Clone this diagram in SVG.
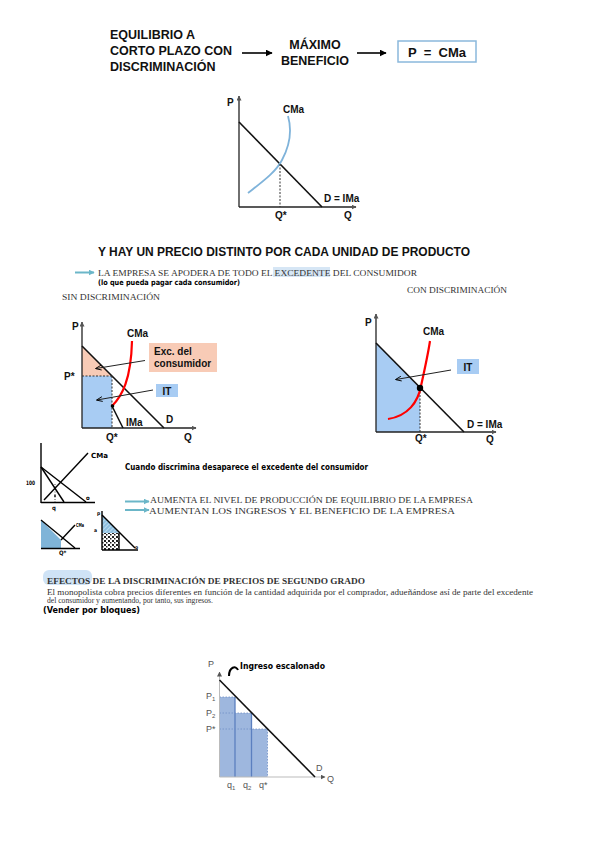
<svg xmlns="http://www.w3.org/2000/svg" width="599" height="848" viewBox="0 0 599 848">
<defs>
<marker id="ah" viewBox="0 0 10 10" refX="9" refY="5" markerWidth="7" markerHeight="7" orient="auto" markerUnits="userSpaceOnUse"><path d="M0,0L10,5L0,10z" fill="#000"/></marker>
<marker id="ahs" viewBox="0 0 10 10" refX="9" refY="5" markerWidth="6" markerHeight="6" orient="auto" markerUnits="userSpaceOnUse"><path d="M0,1L10,5L0,9" fill="none" stroke="#000" stroke-width="1.5"/></marker>
<marker id="ahx" viewBox="0 0 10 10" refX="9" refY="5" markerWidth="5" markerHeight="5" orient="auto" markerUnits="userSpaceOnUse"><path d="M0,0L10,5L0,10z" fill="#555"/></marker>
<marker id="aht" viewBox="0 0 10 10" refX="9" refY="5" markerWidth="6" markerHeight="6" orient="auto" markerUnits="userSpaceOnUse"><path d="M0,0L10,5L0,10z" fill="#6bb6c8"/></marker>
<pattern id="noise" width="4" height="4" patternUnits="userSpaceOnUse"><rect width="4" height="4" fill="#fff"/><rect width="2" height="2" fill="#222"/><rect x="2" y="2" width="1.5" height="1.5" fill="#222"/></pattern>
<pattern id="hatch" width="3" height="3" patternUnits="userSpaceOnUse" patternTransform="rotate(45)"><rect width="3" height="3" fill="#8dbfe0"/><line x1="0" y1="0" x2="0" y2="3" stroke="#fff" stroke-width="0.8"/></pattern>
</defs>
<style>
.h{font-family:"Liberation Sans",Arial,sans-serif;font-weight:bold;fill:#111}
.lb{font-family:"Liberation Sans",Arial,sans-serif;font-weight:bold;font-size:10px;fill:#111}
.g{font-family:"Liberation Sans",Arial,sans-serif;font-size:9px;fill:#555}
.s{font-family:"Liberation Serif","Times New Roman",serif;font-size:8.5px;fill:#333}
.hw{font-family:"DejaVu Sans Condensed","DejaVu Sans",sans-serif;font-weight:bold;fill:#000}
.ax{stroke:#222;stroke-width:1.3;fill:none}
.ln{stroke:#111;stroke-width:1.6;fill:none}
.ds{stroke:#333;stroke-width:1;stroke-dasharray:2,1.5;fill:none}
.sk{stroke:#000;stroke-width:1.4;fill:none}
.ta{stroke:#6bb6c8;stroke-width:2;fill:none}
</style>
<rect width="599" height="848" fill="#fff"/>

<g id="header">
<text class="h" font-size="12.5"><tspan x="110" y="39">EQUILIBRIO A</tspan><tspan x="110" y="55">CORTO PLAZO CON</tspan><tspan x="110" y="71">DISCRIMINACIÓN</tspan></text>
<text class="h" font-size="12.5" text-anchor="middle"><tspan x="315" y="49">MÁXIMO</tspan><tspan x="315" y="65">BENEFICIO</tspan></text>
<rect x="398" y="41" width="78" height="21" fill="#fff" stroke="#8ab8dc" stroke-width="1.5"/>
<text class="h" font-size="13" x="437" y="56.5" text-anchor="middle" xml:space="preserve">P  =  CMa</text>
</g>

<g id="connectors">
<line x1="242" y1="53" x2="272" y2="53" stroke="#000" stroke-width="1.6" marker-end="url(#ah)"/>
<line x1="357" y1="53" x2="386" y2="53" stroke="#000" stroke-width="1.6" marker-end="url(#ah)"/>
<line x1="75" y1="272.5" x2="94" y2="272.5" class="ta" marker-end="url(#aht)"/>
<line x1="125" y1="501.5" x2="149" y2="501.5" class="ta" stroke-width="1.5" marker-end="url(#aht)"/>
<line x1="125" y1="510" x2="149" y2="510" class="ta" stroke-width="1.5" marker-end="url(#aht)"/>
</g>

<g id="graph1">
<line class="ax" x1="239" y1="207" x2="239" y2="96" marker-end="url(#ahx)"/>
<line class="ax" x1="239" y1="207" x2="356" y2="207" marker-end="url(#ahx)"/>
<line class="ln" x1="239" y1="122" x2="322" y2="207"/>
<path d="M248,193 C262,182 276,172 282,160 C290,145 292,130 288,116" fill="none" stroke="#7fb3da" stroke-width="1.8"/>
<line class="ds" x1="280" y1="164" x2="280" y2="207"/>
<text class="lb" x="227" y="106">P</text>
<text class="lb" x="283" y="113">CMa</text>
<text class="lb" x="324" y="202">D = IMa</text>
<text class="lb" x="275" y="219">Q*</text>
<text class="lb" x="344" y="219">Q</text>
</g>

<g id="title">
<text class="h" font-size="13" x="98" y="256" textLength="372" lengthAdjust="spacingAndGlyphs">Y HAY UN PRECIO DISTINTO POR CADA UNIDAD DE PRODUCTO</text>
<rect x="273" y="267" width="57" height="10" fill="#d6e6f5"/>
<text class="s" x="98" y="275.5" textLength="319" lengthAdjust="spacingAndGlyphs">LA EMPRESA SE APODERA DE TODO EL EXCEDENTE DEL CONSUMIDOR</text>
<text class="hw" font-size="7.5" x="98" y="284.5" textLength="142" lengthAdjust="spacingAndGlyphs">(lo que pueda pagar cada consumidor)</text>
<text class="s" x="407" y="293" textLength="100" lengthAdjust="spacingAndGlyphs">CON DISCRIMINACIÓN</text>
<text class="s" x="62" y="300" textLength="98" lengthAdjust="spacingAndGlyphs">SIN DISCRIMINACIÓN</text>
</g>

<g id="graph2">
<polygon points="82,346 112,376 82,376" fill="#f8cbb6"/>
<rect x="82" y="376" width="30" height="52" fill="#a8ccf3"/>
<line class="ax" x1="82" y1="428" x2="82" y2="322" marker-end="url(#ahx)"/>
<line class="ax" x1="82" y1="428" x2="196" y2="428" marker-end="url(#ahx)"/>
<line class="ln" x1="82" y1="346" x2="164" y2="428"/>
<line class="ds" x1="82" y1="376" x2="112" y2="376"/>
<line class="ds" x1="112" y1="376" x2="112" y2="428"/>
<line class="ln" x1="112" y1="406" x2="123" y2="428"/>
<path d="M112,406 C122,396 131,380 132,341" fill="none" stroke="#ff0000" stroke-width="2.2"/>
<circle cx="112.5" cy="406" r="1.8" fill="#000"/>
<rect x="149" y="343" width="68" height="29" fill="#f8cbb6"/>
<text class="lb"><tspan x="154" y="355">Exc. del</tspan><tspan x="154" y="367">consumidor</tspan></text>
<line x1="145" y1="360.5" x2="96" y2="368.5" stroke="#222" stroke-width="1" marker-end="url(#ahs)"/>
<rect x="156" y="384" width="22" height="13" fill="#a8ccf3"/>
<text class="lb" x="167" y="394.5" text-anchor="middle">IT</text>
<line x1="153" y1="390" x2="97" y2="400" stroke="#222" stroke-width="1" marker-end="url(#ahs)"/>
<text class="lb" x="72" y="330">P</text>
<text class="lb" x="127" y="337">CMa</text>
<text class="lb" x="64" y="380">P*</text>
<text class="lb" x="126" y="426">IMa</text>
<text class="lb" x="166" y="423">D</text>
<text class="lb" x="106" y="441">Q*</text>
<text class="lb" x="184" y="441">Q</text>
</g>

<g id="graph3">
<polygon points="376,343 420,388 420,432 376,432" fill="#a8ccf3"/>
<line class="ax" x1="376" y1="432" x2="376" y2="314" marker-end="url(#ahx)"/>
<line class="ax" x1="376" y1="432" x2="496" y2="432" marker-end="url(#ahx)"/>
<line class="ln" x1="376" y1="343" x2="464" y2="432"/>
<line class="ds" x1="420" y1="388" x2="420" y2="432"/>
<path d="M388,419 C408,416 418,402 421,386 C425,368 428,354 430,341" fill="none" stroke="#ff0000" stroke-width="2.2"/>
<circle cx="420" cy="388" r="3.2" fill="#000"/>
<rect x="457" y="359" width="22" height="15" fill="#a8ccf3"/>
<text class="lb" x="468" y="370.5" text-anchor="middle">IT</text>
<line x1="451" y1="370" x2="396" y2="379.5" stroke="#222" stroke-width="1" marker-end="url(#ahs)"/>
<text class="lb" x="365" y="326">P</text>
<text class="lb" x="423" y="335">CMa</text>
<text class="lb" x="467" y="428">D = IMa</text>
<text class="lb" x="415" y="442">Q*</text>
<text class="lb" x="486" y="443">Q</text>
</g>

<g id="sketches">
<line class="sk" x1="41" y1="443" x2="41" y2="503"/>
<line class="sk" x1="41" y1="502.5" x2="95" y2="502.5"/>
<line class="sk" x1="41" y1="467" x2="86" y2="502"/>
<line class="sk" x1="41" y1="467" x2="64" y2="502"/>
<line class="sk" x1="44" y1="500" x2="88" y2="453"/>
<line x1="55" y1="484" x2="55" y2="502" stroke="#000" stroke-width="0.7" stroke-dasharray="1,1.5"/>
<circle cx="55" cy="496" r="0.9" fill="#000"/>
<text class="hw" font-size="7" x="91" y="458" textLength="17" lengthAdjust="spacingAndGlyphs">CMa</text>
<text class="hw" font-size="6" x="26" y="485" textLength="9" lengthAdjust="spacingAndGlyphs">100</text>
<text class="hw" font-size="6" x="86" y="500">o</text>
<text class="hw" font-size="6" x="52" y="510">q</text>

<polygon points="41,520 61,540 61,548 41,548" fill="#7fb4d8"/>
<line class="sk" x1="41" y1="520" x2="75" y2="548"/>
<line class="sk" x1="41" y1="548.5" x2="80" y2="548.5"/>
<line class="sk" x1="61" y1="540" x2="75" y2="525"/>
<text class="hw" font-size="5.5" x="76" y="527" textLength="8" lengthAdjust="spacingAndGlyphs">CMa</text>
<text class="hw" font-size="6" x="59" y="555">Q*</text>

<polygon points="102,515 102,533 120,533" fill="url(#hatch)"/>
<rect x="102" y="533" width="17" height="17" fill="url(#noise)"/>
<line class="sk" x1="102" y1="511" x2="102" y2="550"/>
<line class="sk" x1="102" y1="550" x2="138" y2="550"/>
<line class="sk" x1="102" y1="515" x2="135" y2="548"/>
<line class="sk" x1="119" y1="533" x2="119" y2="550"/>
<text class="hw" font-size="5" x="97" y="515">p</text>
<text class="hw" font-size="5" x="94" y="532">a</text>
<text class="hw" font-size="5" x="135" y="549">o</text>

<text class="hw" font-size="9" x="125" y="470" textLength="243" lengthAdjust="spacingAndGlyphs">Cuando discrimina desaparece el excedente del consumidor</text>
<text class="s" x="150" y="503" textLength="323" lengthAdjust="spacingAndGlyphs">AUMENTA EL NIVEL DE PRODUCCIÓN DE EQUILIBRIO DE LA EMPRESA</text>
<text class="s" x="149" y="513.5" textLength="306" lengthAdjust="spacingAndGlyphs">AUMENTAN LOS INGRESOS Y EL BENEFICIO DE LA EMPRESA</text>
</g>

<g id="section2">
<rect x="43" y="570" width="49" height="15" rx="6" fill="#cfe3f6"/>
<text class="s" font-weight="bold" fill="#111" x="47" y="584" textLength="318" lengthAdjust="spacingAndGlyphs">EFECTOS DE LA DISCRIMINACIÓN DE PRECIOS DE SEGUNDO GRADO</text>
<text class="s" font-size="8" x="47" y="594.5" textLength="486" lengthAdjust="spacingAndGlyphs">El monopolista cobra precios diferentes en función de la cantidad adquirida por el comprador, adueñándose así de parte del excedente</text>
<text class="s" font-size="8" x="47" y="603" textLength="166" lengthAdjust="spacingAndGlyphs">del consumidor y aumentando, por tanto, sus ingresos.</text>
<text class="hw" font-size="8" x="43" y="612.5" textLength="97" lengthAdjust="spacingAndGlyphs">(Vender por bloques)</text>
</g>

<g id="graph4">
<rect x="219.5" y="697" width="15.5" height="80" fill="#7e9fd3" fill-opacity="0.75"/>
<rect x="235" y="713" width="16.5" height="64" fill="#7e9fd3" fill-opacity="0.75"/>
<rect x="251.5" y="729" width="16" height="48" fill="#7e9fd3" fill-opacity="0.75"/>
<line x1="235" y1="697" x2="235" y2="777" stroke="#5b7fbf" stroke-width="1.3"/>
<line x1="251.5" y1="713" x2="251.5" y2="777" stroke="#5b7fbf" stroke-width="1.3"/>
<g stroke="#6f8fc6" stroke-width="0.8" stroke-dasharray="1.5,1.5" fill="none">
<line x1="219.5" y1="697" x2="235" y2="697"/>
<line x1="219.5" y1="713" x2="251.5" y2="713"/>
<line x1="219.5" y1="729" x2="267.5" y2="729"/>
<line x1="267.5" y1="729" x2="267.5" y2="777"/>
</g>
<line x1="219.5" y1="777" x2="219.5" y2="672" stroke="#bbb" stroke-width="1" marker-end="url(#ahx)"/>
<line x1="219.5" y1="777" x2="325" y2="777" stroke="#bbb" stroke-width="1" marker-end="url(#ahx)"/>
<line class="ln" x1="219.5" y1="680" x2="315" y2="777" stroke-width="1.4"/>
<text class="g" font-size="10" x="208" y="667">P</text>
<text class="g" x="206" y="699">P<tspan font-size="6" dy="2">1</tspan></text>
<text class="g" x="206" y="716">P<tspan font-size="6" dy="2">2</tspan></text>
<text class="g" x="206" y="732">P*</text>
<text class="g" x="227" y="788">q<tspan font-size="6" dy="2">1</tspan></text>
<text class="g" x="243" y="788">q<tspan font-size="6" dy="2">2</tspan></text>
<text class="g" x="259" y="788">q*</text>
<text class="g" x="316" y="771">D</text>
<text class="g" font-size="10" x="327" y="782">Q</text>
<path d="M229,676 C229,667 236,665 238,670" fill="none" stroke="#000" stroke-width="2"/>
<text class="hw" font-size="8.5" x="240" y="669" textLength="85" lengthAdjust="spacingAndGlyphs">Ingreso escalonado</text>
</g>
</svg>
